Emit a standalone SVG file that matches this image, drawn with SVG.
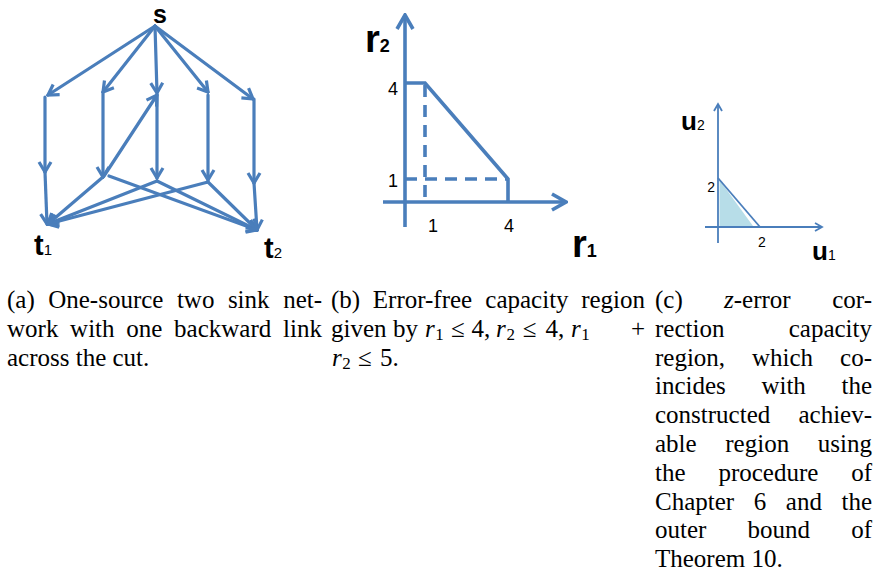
<svg xmlns="http://www.w3.org/2000/svg" width="877" height="575" viewBox="0 0 877 575">
<style>
.ln{fill:none;stroke:#4a7ebb;stroke-width:3.2;stroke-linecap:round;stroke-linejoin:round}
.lb{fill:none;stroke:#4a7ebb;stroke-width:3.6;stroke-linejoin:miter}
.dash{fill:none;stroke:#4a7ebb;stroke-width:3.6;stroke-dasharray:12 8}
.lc{fill:none;stroke:#4a7ebb;stroke-width:1.8}
.lbl{font-family:"Liberation Sans",Arial,sans-serif;font-weight:bold;fill:#000}
.sub{font-family:"Liberation Sans",Arial,sans-serif;font-weight:normal;fill:#000}
.num{font-family:"Liberation Sans",Arial,sans-serif;fill:#000}
.cap{font-family:"Liberation Serif","Times New Roman",serif;font-size:25px;fill:#000}
.it{font-style:italic}
.sb{font-size:17px}
</style>
<defs>
<marker id="ha" markerUnits="userSpaceOnUse" viewBox="-13 -8 15 16" markerWidth="15" markerHeight="16" refX="0" refY="0" orient="auto">
<path d="M-10,-6 L0,0 L-10,6" fill="none" stroke="#4a7ebb" stroke-width="3.2" stroke-linejoin="miter"/>
</marker>
<marker id="hb" markerUnits="userSpaceOnUse" viewBox="-18 -11 20 22" markerWidth="20" markerHeight="22" refX="0" refY="0" orient="auto">
<path d="M-14,-8 L0,0 L-14,8" fill="none" stroke="#4a7ebb" stroke-width="3.6" stroke-linejoin="miter"/>
</marker>
<marker id="hc" markerUnits="userSpaceOnUse" viewBox="-10 -6 12 12" markerWidth="12" markerHeight="12" refX="0" refY="0" orient="auto">
<path d="M-7,-4 L0,0 L-7,4" fill="none" stroke="#4a7ebb" stroke-width="1.8" stroke-linejoin="miter"/>
</marker>
</defs>

<!-- (a) network -->
<g id="connectors-a">
<path class="ln" d="M155,26 L48,95" marker-end="url(#ha)"/>
<path class="ln" d="M155,26 L103,92" marker-end="url(#ha)"/>
<path class="ln" d="M155,26 L157,93" marker-end="url(#ha)"/>
<path class="ln" d="M155,26 L208,92" marker-end="url(#ha)"/>
<path class="ln" d="M155,26 L253,99" marker-end="url(#ha)"/>
<path class="ln" d="M45,97 L45,172" marker-end="url(#ha)"/>
<path class="ln" d="M45,172 L47,224" marker-end="url(#ha)"/>
<path class="ln" d="M103,92 L103,177" marker-end="url(#ha)"/>
<path class="ln" d="M157,95 L157,178" marker-end="url(#ha)"/>
<path class="ln" d="M208,95 L208,180" marker-end="url(#ha)"/>
<path class="ln" d="M254,99 L254,183" marker-end="url(#ha)"/>
<path class="ln" d="M254,183 L257,230" marker-end="url(#ha)"/>
<path class="ln" d="M104,176 L157,95" marker-end="url(#ha)"/>
<path class="ln" d="M103,177 L48,224" marker-end="url(#ha)"/>
<path class="ln" d="M109,176 L257,230" marker-end="url(#ha)"/>
<path class="ln" d="M157,181 L48,224" marker-end="url(#ha)"/>
<path class="ln" d="M157,181 L257,230" marker-end="url(#ha)"/>
<path class="ln" d="M208,182 L48,224" marker-end="url(#ha)"/>
<path class="ln" d="M208,182 L257,230" marker-end="url(#ha)"/>
</g>
<g id="node-s"><text class="lbl" x="160" y="23" font-size="25" text-anchor="middle">s</text></g>
<g id="node-t1"><text class="lbl" x="34" y="255" font-size="29">t<tspan class="sub" font-size="15">1</tspan></text></g>
<g id="node-t2"><text class="lbl" x="264" y="258" font-size="29">t<tspan class="sub" font-size="15">2</tspan></text></g>

<!-- (b) capacity region -->
<g id="plot-b">
<path class="lb" d="M405,227 L405,15" marker-end="url(#hb)"/>
<path class="lb" d="M383,202 L566,202" marker-end="url(#hb)"/>
<path class="lb" d="M405,83 L425,83 L508,179 L508,202"/>
<path class="dash" d="M425,85 L425,202"/>
<path class="dash" d="M405,179 L508,179"/>
<text class="num" x="398" y="95" font-size="18" text-anchor="end">4</text>
<text class="num" x="398" y="187" font-size="18" text-anchor="end">1</text>
<text class="num" x="433" y="232" font-size="18" text-anchor="middle">1</text>
<text class="num" x="509" y="232" font-size="18" text-anchor="middle">4</text>
<text class="lbl" x="365" y="52" font-size="38">r<tspan class="lbl" font-size="18">2</tspan></text>
<text class="lbl" x="572" y="257" font-size="38">r<tspan class="lbl" font-size="18">1</tspan></text>
</g>

<!-- (c) z-error region -->
<g id="plot-c">
<polygon points="719.5,180 719.5,226 753,226" fill="#b7dde8"/>
<path class="lc" d="M718,243 L718,104" marker-end="url(#hc)"/>
<path class="lc" d="M705,227 L822,227" marker-end="url(#hc)"/>
<path class="lc" d="M718,178 L760,227"/>
<text class="num" x="715" y="192" font-size="14" text-anchor="end">2</text>
<text class="num" x="762" y="247" font-size="14" text-anchor="middle">2</text>
<text class="lbl" x="681" y="130" font-size="26">u<tspan class="sub" font-size="14">2</tspan></text>
<text class="lbl" x="812" y="260" font-size="26">u<tspan class="sub" font-size="14">1</tspan></text>
</g>

<!-- captions -->
<g id="caption-a" class="cap">
<text x="7" y="308">(a)</text><text x="48.2" y="308">One-source</text><text x="176.9" y="308">two</text><text x="227.9" y="308">sink</text><text x="322" y="308" text-anchor="end">net-</text>
<text x="7" y="336.8">work</text><text x="70.1" y="336.8">with</text><text x="126.3" y="336.8">one</text><text x="174.1" y="336.8">backward</text><text x="322" y="336.8" text-anchor="end">link</text>
<text x="7" y="365.6">across the cut.</text>
</g>
<g id="caption-b" class="cap">
<text x="331" y="308">(b)</text><text x="372.8" y="308">Error-free</text><text x="485.3" y="308">capacity</text><text x="645" y="308" text-anchor="end">region</text>
<text x="331" y="336.8">given</text><text x="393" y="336.8">by</text>
<text x="425" y="336.8" class="it">r</text><text x="435.3" y="340" class="sb">1</text>
<text x="451" y="336.8">≤</text><text x="471.5" y="336.8">4,</text>
<text x="496" y="336.8" class="it">r</text><text x="506.4" y="340" class="sb">2</text>
<text x="522.8" y="336.8">≤</text><text x="545.4" y="336.8">4,</text>
<text x="571" y="336.8" class="it">r</text><text x="581.3" y="340" class="sb">1</text>
<text x="645" y="336.8" text-anchor="end">+</text>
<text x="332" y="365.6" class="it">r</text><text x="342.3" y="368.8" class="sb">2</text>
<text x="358" y="365.6">≤</text><text x="380" y="365.6">5.</text>
</g>
<g id="caption-c" class="cap">
<text x="655" y="308">(c)</text><text x="724" y="308"><tspan class="it">z</tspan>-error</text><text x="872" y="308" text-anchor="end">cor-</text>
<text x="655" y="336.8">rection</text><text x="872" y="336.8" text-anchor="end">capacity</text>
<text x="655" y="365.6">region,</text><text x="752" y="365.6">which</text><text x="872" y="365.6" text-anchor="end">co-</text>
<text x="655" y="394.4">incides</text><text x="761.4" y="394.4">with</text><text x="872" y="394.4" text-anchor="end">the</text>
<text x="655" y="423.2">constructed</text><text x="872" y="423.2" text-anchor="end">achiev-</text>
<text x="655" y="452">able</text><text x="725.3" y="452">region</text><text x="872" y="452" text-anchor="end">using</text>
<text x="655" y="480.8">the</text><text x="718.4" y="480.8">procedure</text><text x="872" y="480.8" text-anchor="end">of</text>
<text x="655" y="509.6">Chapter</text><text x="753.7" y="509.6">6</text><text x="785.8" y="509.6">and</text><text x="872" y="509.6" text-anchor="end">the</text>
<text x="655" y="538.4">outer</text><text x="747.5" y="538.4">bound</text><text x="872" y="538.4" text-anchor="end">of</text>
<text x="655" y="567.2">Theorem 10.</text>
</g>
</svg>
